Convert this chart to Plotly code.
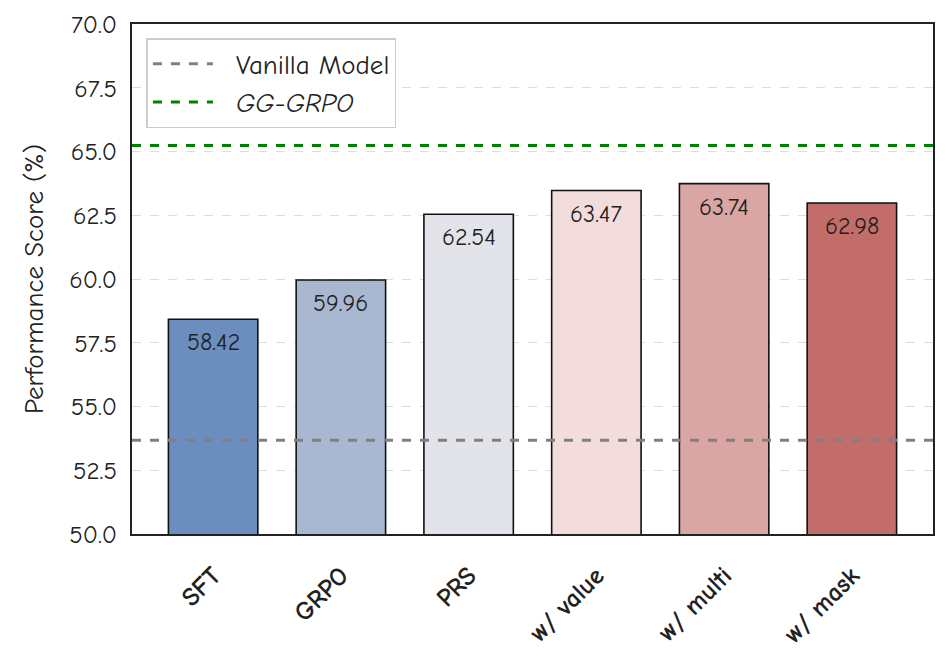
import plotly.graph_objects as go

categories = ["SFT", "GRPO", "PRS", "w/ value", "w/ multi", "w/ mask"]
scores = [58.42, 59.96, 62.54, 63.47, 63.74, 62.98]
bar_colors = ["#6c8ebf", "#a9b8d0", "#e3e4ea", "#f2dcdc", "#daa6a4", "#c36d6b"]
vanilla_score = 53.68
gg_grpo_score = 65.24
y_ticks = [50.0, 52.5, 55.0, 57.5, 60.0, 62.5, 65.0, 67.5, 70.0]

FONT = "Comic Sans MS, Comic Neue, DejaVu Sans, sans-serif"

fig = go.Figure()
fig.add_trace(go.Bar(
    x=list(range(len(categories))),
    y=scores,
    width=0.7,
    marker=dict(color=bar_colors, line=dict(color="#111111", width=1.6)),
    showlegend=False,
    hoverinfo="skip",
))

for i, v in enumerate(scores):
    fig.add_annotation(x=i, y=v, text=f"{v:.2f}", showarrow=False,
                       yanchor="middle", yshift=-23,
                       font=dict(family=FONT, size=24, color="#222222"))

fig.add_shape(type="line", xref="paper", x0=0, x1=1, yref="y",
              y0=vanilla_score, y1=vanilla_score,
              line=dict(color="#808080", width=3, dash="dash"),
              showlegend=True, name="  Vanilla Model")
fig.add_shape(type="line", xref="paper", x0=0, x1=1, yref="y",
              y0=gg_grpo_score, y1=gg_grpo_score,
              line=dict(color="#008000", width=3, dash="dash"),
              showlegend=True, name="  <i>GG-GRPO</i>")

fig.update_layout(
    width=947, height=666,
    margin=dict(l=124, r=22, t=16, b=140, autoexpand=False),
    plot_bgcolor="white", paper_bgcolor="white",
    font=dict(family=FONT, size=24, color="#222222"),
    legend=dict(x=0.018, y=0.972, xanchor="left", yanchor="top",
                bgcolor="rgba(255,255,255,0.9)", bordercolor="#cccccc",
                borderwidth=1.5, font=dict(family=FONT, size=27, color="#222222"),
                itemwidth=60, tracegroupgap=2),
    xaxis=dict(
        range=[-0.635, 5.635],
        automargin=False,
        tickmode="array",
        tickvals=list(range(len(categories))),
        ticktext=[f"<b>{c}</b>" for c in categories],
        tickangle=-45,
        tickfont=dict(family=FONT, size=26, color="#222222"),
        ticklabelstandoff=14,
        showgrid=False, zeroline=False,
        showline=True, linecolor="#222222", linewidth=2, mirror=True,
        ticks="",
    ),
    yaxis=dict(
        range=[50, 70],
        automargin=False,
        tickmode="array",
        tickvals=y_ticks,
        ticktext=[f"{t:.1f}" for t in y_ticks],
        tickfont=dict(family=FONT, size=25, color="#222222"),
        ticklabelstandoff=8,
        title=dict(text="Performance Score (%)", font=dict(family=FONT, size=27, color="#222222"), standoff=18),
        showgrid=True, gridcolor="#dddddd", griddash="dash", gridwidth=1,
        zeroline=False,
        showline=True, linecolor="#222222", linewidth=2, mirror=True,
        ticks="",
    ),
)

fig.write_html("out.html")
